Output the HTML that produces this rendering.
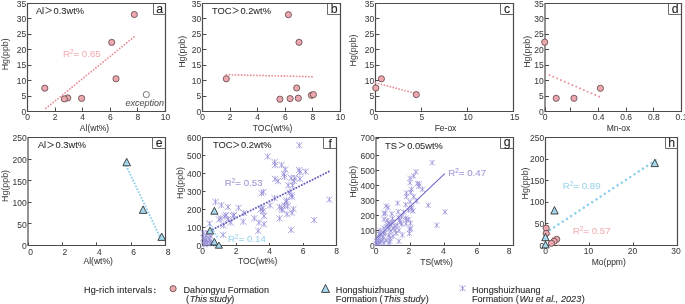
<!DOCTYPE html>
<html><head><meta charset="utf-8"><style>
html,body{margin:0;padding:0;background:#fff;width:685px;height:304px;overflow:hidden}
svg{display:block;font-family:"Liberation Sans",sans-serif;will-change:transform}
</style></head><body>
<svg width="685" height="304" viewBox="0 0 685 304">
<rect width="685" height="304" fill="#fff"/>
<path d="M27.5,3.5 H165.5 V111.5 H27.5 Z" fill="none" stroke="#4f4a49" stroke-width="1.2"/>
<path d="M27.5,111.5 V107.5" stroke="#4f4a49" stroke-width="1"/>
<text x="27.50" y="120.10" font-size="8.5" text-anchor="middle" fill="#3c3c3c" stroke="#3c3c3c" stroke-width="0.05" >0</text>
<path d="M55.5,111.5 V107.5" stroke="#4f4a49" stroke-width="1"/>
<text x="55.10" y="120.10" font-size="8.5" text-anchor="middle" fill="#3c3c3c" stroke="#3c3c3c" stroke-width="0.05" >2</text>
<path d="M82.5,111.5 V107.5" stroke="#4f4a49" stroke-width="1"/>
<text x="82.70" y="120.10" font-size="8.5" text-anchor="middle" fill="#3c3c3c" stroke="#3c3c3c" stroke-width="0.05" >4</text>
<path d="M110.5,111.5 V107.5" stroke="#4f4a49" stroke-width="1"/>
<text x="110.30" y="120.10" font-size="8.5" text-anchor="middle" fill="#3c3c3c" stroke="#3c3c3c" stroke-width="0.05" >6</text>
<path d="M137.5,111.5 V107.5" stroke="#4f4a49" stroke-width="1"/>
<text x="137.90" y="120.10" font-size="8.5" text-anchor="middle" fill="#3c3c3c" stroke="#3c3c3c" stroke-width="0.05" >8</text>
<path d="M165.5,111.5 V107.5" stroke="#4f4a49" stroke-width="1"/>
<text x="165.50" y="120.10" font-size="8.5" text-anchor="middle" fill="#3c3c3c" stroke="#3c3c3c" stroke-width="0.05" >10</text>
<path d="M27.5,111.5 H31.5" stroke="#4f4a49" stroke-width="1"/>
<text x="26.20" y="114.50" font-size="8.5" text-anchor="end" fill="#3c3c3c" stroke="#3c3c3c" stroke-width="0.05" >0</text>
<path d="M27.5,96.5 H31.5" stroke="#4f4a49" stroke-width="1"/>
<text x="26.20" y="99.07" font-size="8.5" text-anchor="end" fill="#3c3c3c" stroke="#3c3c3c" stroke-width="0.05" >5</text>
<path d="M27.5,80.5 H31.5" stroke="#4f4a49" stroke-width="1"/>
<text x="26.20" y="83.64" font-size="8.5" text-anchor="end" fill="#3c3c3c" stroke="#3c3c3c" stroke-width="0.05" >10</text>
<path d="M27.5,65.5 H31.5" stroke="#4f4a49" stroke-width="1"/>
<text x="26.20" y="68.21" font-size="8.5" text-anchor="end" fill="#3c3c3c" stroke="#3c3c3c" stroke-width="0.05" >15</text>
<path d="M27.5,49.5 H31.5" stroke="#4f4a49" stroke-width="1"/>
<text x="26.20" y="52.79" font-size="8.5" text-anchor="end" fill="#3c3c3c" stroke="#3c3c3c" stroke-width="0.05" >20</text>
<path d="M27.5,34.5 H31.5" stroke="#4f4a49" stroke-width="1"/>
<text x="26.20" y="37.36" font-size="8.5" text-anchor="end" fill="#3c3c3c" stroke="#3c3c3c" stroke-width="0.05" >25</text>
<path d="M27.5,18.5 H31.5" stroke="#4f4a49" stroke-width="1"/>
<text x="26.20" y="21.93" font-size="8.5" text-anchor="end" fill="#3c3c3c" stroke="#3c3c3c" stroke-width="0.05" >30</text>
<path d="M27.5,3.5 H31.5" stroke="#4f4a49" stroke-width="1"/>
<text x="26.20" y="6.50" font-size="8.5" text-anchor="end" fill="#3c3c3c" stroke="#3c3c3c" stroke-width="0.05" >35</text>
<path d="M165.5,14.5 H153.5 V3.5" fill="none" stroke="#5e5a5a" stroke-width="0.9"/>
<text x="159.70" y="12.80" font-size="12.3" text-anchor="middle" fill="#222" stroke="#222" stroke-width="0.08" >a</text>
<text x="35.90" y="13.70" font-size="9.3" fill="#2e2e2e" stroke="#2e2e2e" stroke-width="0.08">Al</text>
<path d="M45.50,7.50 L51.60,10.35 L45.50,13.20" fill="none" stroke="#2e2e2e" stroke-width="0.85" stroke-linejoin="miter"/>
<text x="53.54" y="13.70" font-size="9.3" fill="#2e2e2e" stroke="#2e2e2e" stroke-width="0.08">0.3wt%</text>
<text x="0" y="0" font-size="8.9" text-anchor="middle" fill="#3c3c3c" transform="translate(7.6,54.3) rotate(-90)">Hg(ppb)</text>
<text x="94.50" y="130.80" font-size="8.5" text-anchor="middle" fill="#3c3c3c" stroke="#3c3c3c" stroke-width="0.08" >Al(wt%)</text>
<path d="M46.00,108.30 L134.70,36.40" stroke="#e9939b" stroke-width="1.9" stroke-dasharray="0.01 3.05" stroke-linecap="round" fill="none"/>
<circle cx="134.30" cy="14.50" r="3.1" fill="#eca8ae" stroke="#5b4345" stroke-width="0.8"/>
<circle cx="111.70" cy="42.40" r="3.1" fill="#eca8ae" stroke="#5b4345" stroke-width="0.8"/>
<circle cx="116.00" cy="78.80" r="3.1" fill="#eca8ae" stroke="#5b4345" stroke-width="0.8"/>
<circle cx="44.80" cy="88.20" r="3.1" fill="#eca8ae" stroke="#5b4345" stroke-width="0.8"/>
<circle cx="67.70" cy="97.90" r="3.1" fill="#eca8ae" stroke="#5b4345" stroke-width="0.8"/>
<circle cx="64.30" cy="98.90" r="3.1" fill="#eca8ae" stroke="#5b4345" stroke-width="0.8"/>
<circle cx="81.60" cy="98.40" r="3.1" fill="#eca8ae" stroke="#5b4345" stroke-width="0.8"/>
<circle cx="146.30" cy="94.60" r="3.1" fill="#fff" stroke="#555" stroke-width="0.8"/>
<text x="125.60" y="105.50" font-size="9" text-anchor="start" fill="#555" stroke="#555" stroke-width="0.08" font-style="italic">exception</text>
<text x="63.00" y="56.60" font-size="9.7" fill="#f2b1b6" stroke="#f2b1b6" stroke-width="0.1">R<tspan font-size="6.3" dy="-3.0" dx="-0.1">2</tspan><tspan dy="3.0" dx="0.1">= 0.65</tspan></text>
<path d="M202.5,3.5 H340.5 V111.5 H202.5 Z" fill="none" stroke="#4f4a49" stroke-width="1.2"/>
<path d="M202.5,111.5 V107.5" stroke="#4f4a49" stroke-width="1"/>
<text x="202.50" y="120.10" font-size="8.5" text-anchor="middle" fill="#3c3c3c" stroke="#3c3c3c" stroke-width="0.05" >0</text>
<path d="M230.5,111.5 V107.5" stroke="#4f4a49" stroke-width="1"/>
<text x="230.10" y="120.10" font-size="8.5" text-anchor="middle" fill="#3c3c3c" stroke="#3c3c3c" stroke-width="0.05" >2</text>
<path d="M257.5,111.5 V107.5" stroke="#4f4a49" stroke-width="1"/>
<text x="257.70" y="120.10" font-size="8.5" text-anchor="middle" fill="#3c3c3c" stroke="#3c3c3c" stroke-width="0.05" >4</text>
<path d="M285.5,111.5 V107.5" stroke="#4f4a49" stroke-width="1"/>
<text x="285.30" y="120.10" font-size="8.5" text-anchor="middle" fill="#3c3c3c" stroke="#3c3c3c" stroke-width="0.05" >6</text>
<path d="M312.5,111.5 V107.5" stroke="#4f4a49" stroke-width="1"/>
<text x="312.90" y="120.10" font-size="8.5" text-anchor="middle" fill="#3c3c3c" stroke="#3c3c3c" stroke-width="0.05" >8</text>
<path d="M340.5,111.5 V107.5" stroke="#4f4a49" stroke-width="1"/>
<text x="340.50" y="120.10" font-size="8.5" text-anchor="middle" fill="#3c3c3c" stroke="#3c3c3c" stroke-width="0.05" >10</text>
<path d="M202.5,111.5 H206.5" stroke="#4f4a49" stroke-width="1"/>
<text x="201.20" y="114.50" font-size="8.5" text-anchor="end" fill="#3c3c3c" stroke="#3c3c3c" stroke-width="0.05" >0</text>
<path d="M202.5,96.5 H206.5" stroke="#4f4a49" stroke-width="1"/>
<text x="201.20" y="99.07" font-size="8.5" text-anchor="end" fill="#3c3c3c" stroke="#3c3c3c" stroke-width="0.05" >5</text>
<path d="M202.5,80.5 H206.5" stroke="#4f4a49" stroke-width="1"/>
<text x="201.20" y="83.64" font-size="8.5" text-anchor="end" fill="#3c3c3c" stroke="#3c3c3c" stroke-width="0.05" >10</text>
<path d="M202.5,65.5 H206.5" stroke="#4f4a49" stroke-width="1"/>
<text x="201.20" y="68.21" font-size="8.5" text-anchor="end" fill="#3c3c3c" stroke="#3c3c3c" stroke-width="0.05" >15</text>
<path d="M202.5,49.5 H206.5" stroke="#4f4a49" stroke-width="1"/>
<text x="201.20" y="52.79" font-size="8.5" text-anchor="end" fill="#3c3c3c" stroke="#3c3c3c" stroke-width="0.05" >20</text>
<path d="M202.5,34.5 H206.5" stroke="#4f4a49" stroke-width="1"/>
<text x="201.20" y="37.36" font-size="8.5" text-anchor="end" fill="#3c3c3c" stroke="#3c3c3c" stroke-width="0.05" >25</text>
<path d="M202.5,18.5 H206.5" stroke="#4f4a49" stroke-width="1"/>
<text x="201.20" y="21.93" font-size="8.5" text-anchor="end" fill="#3c3c3c" stroke="#3c3c3c" stroke-width="0.05" >30</text>
<path d="M202.5,3.5 H206.5" stroke="#4f4a49" stroke-width="1"/>
<text x="201.20" y="6.50" font-size="8.5" text-anchor="end" fill="#3c3c3c" stroke="#3c3c3c" stroke-width="0.05" >35</text>
<path d="M340.5,14.5 H327.5 V3.5" fill="none" stroke="#5e5a5a" stroke-width="0.9"/>
<text x="334.20" y="12.80" font-size="12.3" text-anchor="middle" fill="#222" stroke="#222" stroke-width="0.08" >b</text>
<text x="212.10" y="13.80" font-size="9.3" fill="#2e2e2e" stroke="#2e2e2e" stroke-width="0.08">TOC</text>
<path d="M232.70,7.70 L238.40,10.50 L232.70,13.30" fill="none" stroke="#2e2e2e" stroke-width="0.85" stroke-linejoin="miter"/>
<text x="240.44" y="13.80" font-size="9.3" fill="#2e2e2e" stroke="#2e2e2e" stroke-width="0.08">0.2wt%</text>
<text x="0" y="0" font-size="8.9" text-anchor="middle" fill="#3c3c3c" transform="translate(185.4,51.8) rotate(-90)">Hg(ppb)</text>
<text x="272.60" y="130.80" font-size="8.5" text-anchor="middle" fill="#3c3c3c" stroke="#3c3c3c" stroke-width="0.08" >TOC(wt%)</text>
<path d="M226.30,74.70 L312.10,76.70" stroke="#e9939b" stroke-width="1.9" stroke-dasharray="0.01 3.05" stroke-linecap="round" fill="none"/>
<circle cx="288.40" cy="14.70" r="3.1" fill="#eca8ae" stroke="#5b4345" stroke-width="0.8"/>
<circle cx="299.00" cy="42.30" r="3.1" fill="#eca8ae" stroke="#5b4345" stroke-width="0.8"/>
<circle cx="226.30" cy="78.80" r="3.1" fill="#eca8ae" stroke="#5b4345" stroke-width="0.8"/>
<circle cx="296.70" cy="88.00" r="3.1" fill="#eca8ae" stroke="#5b4345" stroke-width="0.8"/>
<circle cx="279.90" cy="99.20" r="3.1" fill="#eca8ae" stroke="#5b4345" stroke-width="0.8"/>
<circle cx="290.10" cy="98.60" r="3.1" fill="#eca8ae" stroke="#5b4345" stroke-width="0.8"/>
<circle cx="298.30" cy="98.20" r="3.1" fill="#eca8ae" stroke="#5b4345" stroke-width="0.8"/>
<circle cx="311.40" cy="95.30" r="3.1" fill="#eca8ae" stroke="#5b4345" stroke-width="0.8"/>
<circle cx="313.40" cy="94.60" r="3.1" fill="#eca8ae" stroke="#5b4345" stroke-width="0.8"/>
<path d="M375.5,3.5 H513.5 V111.5 H375.5 Z" fill="none" stroke="#4f4a49" stroke-width="1.2"/>
<path d="M375.5,111.5 V107.5" stroke="#4f4a49" stroke-width="1"/>
<text x="375.80" y="120.10" font-size="8.5" text-anchor="middle" fill="#3c3c3c" stroke="#3c3c3c" stroke-width="0.05" >0</text>
<path d="M421.5,111.5 V107.5" stroke="#4f4a49" stroke-width="1"/>
<text x="421.80" y="120.10" font-size="8.5" text-anchor="middle" fill="#3c3c3c" stroke="#3c3c3c" stroke-width="0.05" >5</text>
<path d="M467.5,111.5 V107.5" stroke="#4f4a49" stroke-width="1"/>
<text x="468.10" y="120.10" font-size="8.5" text-anchor="middle" fill="#3c3c3c" stroke="#3c3c3c" stroke-width="0.05" >10</text>
<path d="M513.5,111.5 V107.5" stroke="#4f4a49" stroke-width="1"/>
<text x="514.70" y="120.10" font-size="8.5" text-anchor="middle" fill="#3c3c3c" stroke="#3c3c3c" stroke-width="0.05" >15</text>
<path d="M375.5,111.5 H379.5" stroke="#4f4a49" stroke-width="1"/>
<text x="374.20" y="114.50" font-size="8.5" text-anchor="end" fill="#3c3c3c" stroke="#3c3c3c" stroke-width="0.05" >0</text>
<path d="M375.5,96.5 H379.5" stroke="#4f4a49" stroke-width="1"/>
<text x="374.20" y="99.07" font-size="8.5" text-anchor="end" fill="#3c3c3c" stroke="#3c3c3c" stroke-width="0.05" >5</text>
<path d="M375.5,80.5 H379.5" stroke="#4f4a49" stroke-width="1"/>
<text x="374.20" y="83.64" font-size="8.5" text-anchor="end" fill="#3c3c3c" stroke="#3c3c3c" stroke-width="0.05" >10</text>
<path d="M375.5,65.5 H379.5" stroke="#4f4a49" stroke-width="1"/>
<text x="374.20" y="68.21" font-size="8.5" text-anchor="end" fill="#3c3c3c" stroke="#3c3c3c" stroke-width="0.05" >15</text>
<path d="M375.5,49.5 H379.5" stroke="#4f4a49" stroke-width="1"/>
<text x="374.20" y="52.79" font-size="8.5" text-anchor="end" fill="#3c3c3c" stroke="#3c3c3c" stroke-width="0.05" >20</text>
<path d="M375.5,34.5 H379.5" stroke="#4f4a49" stroke-width="1"/>
<text x="374.20" y="37.36" font-size="8.5" text-anchor="end" fill="#3c3c3c" stroke="#3c3c3c" stroke-width="0.05" >25</text>
<path d="M375.5,18.5 H379.5" stroke="#4f4a49" stroke-width="1"/>
<text x="374.20" y="21.93" font-size="8.5" text-anchor="end" fill="#3c3c3c" stroke="#3c3c3c" stroke-width="0.05" >30</text>
<path d="M375.5,3.5 H379.5" stroke="#4f4a49" stroke-width="1"/>
<text x="374.20" y="6.50" font-size="8.5" text-anchor="end" fill="#3c3c3c" stroke="#3c3c3c" stroke-width="0.05" >35</text>
<path d="M513.5,14.5 H500.5 V3.5" fill="none" stroke="#5e5a5a" stroke-width="0.9"/>
<text x="507.20" y="12.80" font-size="12.3" text-anchor="middle" fill="#222" stroke="#222" stroke-width="0.08" >c</text>
<text x="0" y="0" font-size="8.9" text-anchor="middle" fill="#3c3c3c" transform="translate(356.3,50.5) rotate(-90)">Hg(ppb)</text>
<text x="445.50" y="130.80" font-size="8.5" text-anchor="middle" fill="#3c3c3c" stroke="#3c3c3c" stroke-width="0.08" >Fe-ox</text>
<path d="M375.50,82.80 L414.00,93.00" stroke="#e9939b" stroke-width="1.9" stroke-dasharray="0.01 3.05" stroke-linecap="round" fill="none"/>
<circle cx="381.40" cy="78.80" r="3.1" fill="#eca8ae" stroke="#5b4345" stroke-width="0.8"/>
<circle cx="375.80" cy="88.00" r="3.1" fill="#eca8ae" stroke="#5b4345" stroke-width="0.8"/>
<circle cx="416.30" cy="94.60" r="3.1" fill="#eca8ae" stroke="#5b4345" stroke-width="0.8"/>
<path d="M545.0,3.5 H681.5 V111.5 H545.0 Z" fill="none" stroke="#4f4a49" stroke-width="1.2"/>
<path d="M545.5,111.5 V107.5" stroke="#4f4a49" stroke-width="1"/>
<text x="545.00" y="120.10" font-size="8.5" text-anchor="middle" fill="#3c3c3c" stroke="#3c3c3c" stroke-width="0.05" >0</text>
<path d="M570.5,111.5 V107.5" stroke="#4f4a49" stroke-width="1"/>
<path d="M598.5,111.5 V107.5" stroke="#4f4a49" stroke-width="1"/>
<text x="598.60" y="120.10" font-size="8.5" text-anchor="middle" fill="#3c3c3c" stroke="#3c3c3c" stroke-width="0.05" >0.4</text>
<path d="M626.5,111.5 V107.5" stroke="#4f4a49" stroke-width="1"/>
<text x="626.20" y="120.10" font-size="8.5" text-anchor="middle" fill="#3c3c3c" stroke="#3c3c3c" stroke-width="0.05" >0.6</text>
<path d="M653.5,111.5 V107.5" stroke="#4f4a49" stroke-width="1"/>
<text x="653.80" y="120.10" font-size="8.5" text-anchor="middle" fill="#3c3c3c" stroke="#3c3c3c" stroke-width="0.05" >0.8</text>
<path d="M681.5,111.5 V107.5" stroke="#4f4a49" stroke-width="1"/>
<text x="681.50" y="120.10" font-size="8.5" text-anchor="middle" fill="#3c3c3c" stroke="#3c3c3c" stroke-width="0.05" >0.1</text>
<path d="M545.0,111.5 H549.0" stroke="#4f4a49" stroke-width="1"/>
<text x="543.70" y="114.50" font-size="8.5" text-anchor="end" fill="#3c3c3c" stroke="#3c3c3c" stroke-width="0.05" >0</text>
<path d="M545.0,96.5 H549.0" stroke="#4f4a49" stroke-width="1"/>
<text x="543.70" y="99.07" font-size="8.5" text-anchor="end" fill="#3c3c3c" stroke="#3c3c3c" stroke-width="0.05" >5</text>
<path d="M545.0,80.5 H549.0" stroke="#4f4a49" stroke-width="1"/>
<text x="543.70" y="83.64" font-size="8.5" text-anchor="end" fill="#3c3c3c" stroke="#3c3c3c" stroke-width="0.05" >10</text>
<path d="M545.0,65.5 H549.0" stroke="#4f4a49" stroke-width="1"/>
<text x="543.70" y="68.21" font-size="8.5" text-anchor="end" fill="#3c3c3c" stroke="#3c3c3c" stroke-width="0.05" >15</text>
<path d="M545.0,49.5 H549.0" stroke="#4f4a49" stroke-width="1"/>
<text x="543.70" y="52.79" font-size="8.5" text-anchor="end" fill="#3c3c3c" stroke="#3c3c3c" stroke-width="0.05" >20</text>
<path d="M545.0,34.5 H549.0" stroke="#4f4a49" stroke-width="1"/>
<text x="543.70" y="37.36" font-size="8.5" text-anchor="end" fill="#3c3c3c" stroke="#3c3c3c" stroke-width="0.05" >25</text>
<path d="M545.0,18.5 H549.0" stroke="#4f4a49" stroke-width="1"/>
<text x="543.70" y="21.93" font-size="8.5" text-anchor="end" fill="#3c3c3c" stroke="#3c3c3c" stroke-width="0.05" >30</text>
<path d="M545.0,3.5 H549.0" stroke="#4f4a49" stroke-width="1"/>
<text x="543.70" y="6.50" font-size="8.5" text-anchor="end" fill="#3c3c3c" stroke="#3c3c3c" stroke-width="0.05" >35</text>
<path d="M681.5,14.5 H668.5 V3.5" fill="none" stroke="#5e5a5a" stroke-width="0.9"/>
<text x="675.20" y="12.80" font-size="12.3" text-anchor="middle" fill="#222" stroke="#222" stroke-width="0.08" >d</text>
<text x="0" y="0" font-size="8.9" text-anchor="middle" fill="#3c3c3c" transform="translate(530.4,51.8) rotate(-90)">Hg(ppb)</text>
<text x="618.50" y="130.50" font-size="8.5" text-anchor="middle" fill="#3c3c3c" stroke="#3c3c3c" stroke-width="0.08" >Mn-ox</text>
<path d="M549.50,75.10 L599.60,96.85" stroke="#e9939b" stroke-width="2.0" stroke-dasharray="0.01 4.15" stroke-linecap="round" fill="none"/>
<circle cx="544.70" cy="42.20" r="3.1" fill="#eca8ae" stroke="#5b4345" stroke-width="0.8"/>
<circle cx="556.20" cy="98.30" r="3.1" fill="#eca8ae" stroke="#5b4345" stroke-width="0.8"/>
<circle cx="574.00" cy="98.30" r="3.1" fill="#eca8ae" stroke="#5b4345" stroke-width="0.8"/>
<circle cx="600.40" cy="88.30" r="3.1" fill="#eca8ae" stroke="#5b4345" stroke-width="0.8"/>
<path d="M28.0,137.5 H165.5 V245.5 H28.0 Z" fill="none" stroke="#4f4a49" stroke-width="1.2"/>
<path d="M28.5,245.5 V242.3" stroke="#4f4a49" stroke-width="1"/>
<text x="30.50" y="254.70" font-size="8.5" text-anchor="middle" fill="#3c3c3c" stroke="#3c3c3c" stroke-width="0.05" >0</text>
<path d="M62.5,245.5 V242.3" stroke="#4f4a49" stroke-width="1"/>
<text x="64.88" y="254.70" font-size="8.5" text-anchor="middle" fill="#3c3c3c" stroke="#3c3c3c" stroke-width="0.05" >2</text>
<path d="M96.5,245.5 V242.3" stroke="#4f4a49" stroke-width="1"/>
<text x="99.25" y="254.70" font-size="8.5" text-anchor="middle" fill="#3c3c3c" stroke="#3c3c3c" stroke-width="0.05" >4</text>
<path d="M131.5,245.5 V242.3" stroke="#4f4a49" stroke-width="1"/>
<text x="133.62" y="254.70" font-size="8.5" text-anchor="middle" fill="#3c3c3c" stroke="#3c3c3c" stroke-width="0.05" >6</text>
<path d="M165.5,245.5 V242.3" stroke="#4f4a49" stroke-width="1"/>
<text x="168.00" y="254.70" font-size="8.5" text-anchor="middle" fill="#3c3c3c" stroke="#3c3c3c" stroke-width="0.05" >8</text>
<path d="M28.0,245.5 H31.5" stroke="#4f4a49" stroke-width="1"/>
<text x="26.70" y="249.30" font-size="8.5" text-anchor="end" fill="#3c3c3c" stroke="#3c3c3c" stroke-width="0.05" >0</text>
<path d="M28.0,223.5 H31.5" stroke="#4f4a49" stroke-width="1"/>
<text x="26.70" y="227.70" font-size="8.5" text-anchor="end" fill="#3c3c3c" stroke="#3c3c3c" stroke-width="0.05" >50</text>
<path d="M28.0,202.5 H31.5" stroke="#4f4a49" stroke-width="1"/>
<text x="26.70" y="206.10" font-size="8.5" text-anchor="end" fill="#3c3c3c" stroke="#3c3c3c" stroke-width="0.05" >100</text>
<path d="M28.0,180.5 H31.5" stroke="#4f4a49" stroke-width="1"/>
<text x="26.70" y="184.50" font-size="8.5" text-anchor="end" fill="#3c3c3c" stroke="#3c3c3c" stroke-width="0.05" >150</text>
<path d="M28.0,159.5 H31.5" stroke="#4f4a49" stroke-width="1"/>
<text x="26.70" y="162.90" font-size="8.5" text-anchor="end" fill="#3c3c3c" stroke="#3c3c3c" stroke-width="0.05" >200</text>
<path d="M28.0,137.5 H31.5" stroke="#4f4a49" stroke-width="1"/>
<text x="26.70" y="141.30" font-size="8.5" text-anchor="end" fill="#3c3c3c" stroke="#3c3c3c" stroke-width="0.05" >250</text>
<path d="M165.5,148.5 H152.5 V137.5" fill="none" stroke="#5e5a5a" stroke-width="0.9"/>
<text x="159.20" y="146.80" font-size="12.3" text-anchor="middle" fill="#222" stroke="#222" stroke-width="0.08" >e</text>
<text x="37.90" y="148.30" font-size="9.3" fill="#2e2e2e" stroke="#2e2e2e" stroke-width="0.08">Al</text>
<path d="M47.50,142.00 L53.60,144.90 L47.50,147.80" fill="none" stroke="#2e2e2e" stroke-width="0.85" stroke-linejoin="miter"/>
<text x="55.54" y="148.30" font-size="9.3" fill="#2e2e2e" stroke="#2e2e2e" stroke-width="0.08">0.3wt%</text>
<text x="0" y="0" font-size="8.9" text-anchor="middle" fill="#3c3c3c" transform="translate(7.6,186) rotate(-90)">Hg(ppb)</text>
<text x="98.20" y="264.20" font-size="8.5" text-anchor="middle" fill="#3c3c3c" stroke="#3c3c3c" stroke-width="0.08" >Al(wt%)</text>
<path d="M126.00,165.30 L160.60,238.50" stroke="#8fd0ec" stroke-width="1.9" stroke-dasharray="1.7 1.5" stroke-linecap="butt" fill="none"/>
<path d="M126.70,158.30 L130.50,165.80 L122.90,165.80 Z" fill="#a7d8ec" stroke="#2f3436" stroke-width="0.9" stroke-linejoin="miter"/>
<path d="M143.10,205.90 L146.90,213.40 L139.30,213.40 Z" fill="#a7d8ec" stroke="#2f3436" stroke-width="0.9" stroke-linejoin="miter"/>
<path d="M161.70,233.10 L165.50,240.40 L157.90,240.40 Z" fill="#a7d8ec" stroke="#2f3436" stroke-width="0.9" stroke-linejoin="miter"/>
<path d="M202.5,137.5 H336.5 V245.5 H202.5 Z" fill="none" stroke="#4f4a49" stroke-width="1.2"/>
<path d="M202.5,245.5 V243.0" stroke="#4f4a49" stroke-width="1"/>
<text x="202.50" y="254.10" font-size="8.5" text-anchor="middle" fill="#3c3c3c" stroke="#3c3c3c" stroke-width="0.05" >0</text>
<path d="M236.5,245.5 V243.0" stroke="#4f4a49" stroke-width="1"/>
<text x="236.00" y="254.10" font-size="8.5" text-anchor="middle" fill="#3c3c3c" stroke="#3c3c3c" stroke-width="0.05" >2</text>
<path d="M269.5,245.5 V243.0" stroke="#4f4a49" stroke-width="1"/>
<text x="269.50" y="254.10" font-size="8.5" text-anchor="middle" fill="#3c3c3c" stroke="#3c3c3c" stroke-width="0.05" >4</text>
<path d="M303.5,245.5 V243.0" stroke="#4f4a49" stroke-width="1"/>
<text x="303.00" y="254.10" font-size="8.5" text-anchor="middle" fill="#3c3c3c" stroke="#3c3c3c" stroke-width="0.05" >6</text>
<path d="M336.5,245.5 V243.0" stroke="#4f4a49" stroke-width="1"/>
<text x="336.50" y="254.10" font-size="8.5" text-anchor="middle" fill="#3c3c3c" stroke="#3c3c3c" stroke-width="0.05" >8</text>
<path d="M202.5,245.5 H205.5" stroke="#4f4a49" stroke-width="1"/>
<text x="201.20" y="248.50" font-size="8.5" text-anchor="end" fill="#3c3c3c" stroke="#3c3c3c" stroke-width="0.05" >0</text>
<path d="M202.5,227.5 H205.5" stroke="#4f4a49" stroke-width="1"/>
<text x="201.20" y="230.50" font-size="8.5" text-anchor="end" fill="#3c3c3c" stroke="#3c3c3c" stroke-width="0.05" >100</text>
<path d="M202.5,209.5 H205.5" stroke="#4f4a49" stroke-width="1"/>
<text x="201.20" y="212.50" font-size="8.5" text-anchor="end" fill="#3c3c3c" stroke="#3c3c3c" stroke-width="0.05" >200</text>
<path d="M202.5,191.5 H205.5" stroke="#4f4a49" stroke-width="1"/>
<text x="201.20" y="194.50" font-size="8.5" text-anchor="end" fill="#3c3c3c" stroke="#3c3c3c" stroke-width="0.05" >300</text>
<path d="M202.5,173.5 H205.5" stroke="#4f4a49" stroke-width="1"/>
<text x="201.20" y="176.50" font-size="8.5" text-anchor="end" fill="#3c3c3c" stroke="#3c3c3c" stroke-width="0.05" >400</text>
<path d="M202.5,155.5 H205.5" stroke="#4f4a49" stroke-width="1"/>
<text x="201.20" y="158.50" font-size="8.5" text-anchor="end" fill="#3c3c3c" stroke="#3c3c3c" stroke-width="0.05" >500</text>
<path d="M202.5,137.5 H205.5" stroke="#4f4a49" stroke-width="1"/>
<text x="201.20" y="140.50" font-size="8.5" text-anchor="end" fill="#3c3c3c" stroke="#3c3c3c" stroke-width="0.05" >600</text>
<path d="M336.5,148.5 H323.5 V137.5" fill="none" stroke="#5e5a5a" stroke-width="0.9"/>
<text x="330.20" y="147.50" font-size="12.3" text-anchor="middle" fill="#222" stroke="#222" stroke-width="0.08" >f</text>
<text x="212.90" y="148.10" font-size="9.3" fill="#2e2e2e" stroke="#2e2e2e" stroke-width="0.08">TOC</text>
<path d="M233.30,142.00 L239.00,144.80 L233.30,147.60" fill="none" stroke="#2e2e2e" stroke-width="0.85" stroke-linejoin="miter"/>
<text x="241.04" y="148.10" font-size="9.3" fill="#2e2e2e" stroke="#2e2e2e" stroke-width="0.08">0.2wt%</text>
<text x="0" y="0" font-size="8.9" text-anchor="middle" fill="#3c3c3c" transform="translate(183.4,183) rotate(-90)">Hg(ppb)</text>
<text x="257.70" y="264.40" font-size="8.5" text-anchor="middle" fill="#3c3c3c" stroke="#3c3c3c" stroke-width="0.08" >TOC(wt%)</text>
<rect x="203" y="239.5" width="8.5" height="5.5" fill="#aaa6de" opacity="0.75"/>
<path d="M264.60,153.40 L270.80,159.60 M270.80,153.40 L264.60,159.60 M267.70,153.40 V159.60" stroke="#918cd6" stroke-width="0.75" fill="none"/>
<path d="M271.60,159.00 L277.80,165.20 M277.80,159.00 L271.60,165.20 M274.70,159.00 V165.20" stroke="#918cd6" stroke-width="0.75" fill="none"/>
<path d="M271.90,161.90 L278.10,168.10 M278.10,161.90 L271.90,168.10 M275.00,161.90 V168.10" stroke="#918cd6" stroke-width="0.75" fill="none"/>
<path d="M278.50,161.90 L284.70,168.10 M284.70,161.90 L278.50,168.10 M281.60,161.90 V168.10" stroke="#918cd6" stroke-width="0.75" fill="none"/>
<path d="M282.20,166.30 L288.40,172.50 M288.40,166.30 L282.20,172.50 M285.30,166.30 V172.50" stroke="#918cd6" stroke-width="0.75" fill="none"/>
<path d="M281.40,173.60 L287.60,179.80 M287.60,173.60 L281.40,179.80 M284.50,173.60 V179.80" stroke="#918cd6" stroke-width="0.75" fill="none"/>
<path d="M296.00,167.00 L302.20,173.20 M302.20,167.00 L296.00,173.20 M299.10,167.00 V173.20" stroke="#918cd6" stroke-width="0.75" fill="none"/>
<path d="M296.80,169.20 L303.00,175.40 M303.00,169.20 L296.80,175.40 M299.90,169.20 V175.40" stroke="#918cd6" stroke-width="0.75" fill="none"/>
<path d="M302.60,168.50 L308.80,174.70 M308.80,168.50 L302.60,174.70 M305.70,168.50 V174.70" stroke="#918cd6" stroke-width="0.75" fill="none"/>
<path d="M271.90,175.80 L278.10,182.00 M278.10,175.80 L271.90,182.00 M275.00,175.80 V182.00" stroke="#918cd6" stroke-width="0.75" fill="none"/>
<path d="M274.90,178.00 L281.10,184.20 M281.10,178.00 L274.90,184.20 M278.00,178.00 V184.20" stroke="#918cd6" stroke-width="0.75" fill="none"/>
<path d="M288.00,175.00 L294.20,181.20 M294.20,175.00 L288.00,181.20 M291.10,175.00 V181.20" stroke="#918cd6" stroke-width="0.75" fill="none"/>
<path d="M291.60,175.00 L297.80,181.20 M297.80,175.00 L291.60,181.20 M294.70,175.00 V181.20" stroke="#918cd6" stroke-width="0.75" fill="none"/>
<path d="M296.80,175.80 L303.00,182.00 M303.00,175.80 L296.80,182.00 M299.90,175.80 V182.00" stroke="#918cd6" stroke-width="0.75" fill="none"/>
<path d="M290.90,178.00 L297.10,184.20 M297.10,178.00 L290.90,184.20 M294.00,178.00 V184.20" stroke="#918cd6" stroke-width="0.75" fill="none"/>
<path d="M285.10,182.30 L291.30,188.50 M291.30,182.30 L285.10,188.50 M288.20,182.30 V188.50" stroke="#918cd6" stroke-width="0.75" fill="none"/>
<path d="M289.50,182.30 L295.70,188.50 M295.70,182.30 L289.50,188.50 M292.60,182.30 V188.50" stroke="#918cd6" stroke-width="0.75" fill="none"/>
<path d="M260.30,188.90 L266.50,195.10 M266.50,188.90 L260.30,195.10 M263.40,188.90 V195.10" stroke="#918cd6" stroke-width="0.75" fill="none"/>
<path d="M286.50,189.60 L292.70,195.80 M292.70,189.60 L286.50,195.80 M289.60,189.60 V195.80" stroke="#918cd6" stroke-width="0.75" fill="none"/>
<path d="M296.20,142.20 L302.40,148.40 M302.40,142.20 L296.20,148.40 M299.30,142.20 V148.40" stroke="#918cd6" stroke-width="0.75" fill="none"/>
<path d="M280.90,170.90 L287.10,177.10 M287.10,170.90 L280.90,177.10 M284.00,170.90 V177.10" stroke="#918cd6" stroke-width="0.75" fill="none"/>
<path d="M288.70,191.90 L294.90,198.10 M294.90,191.90 L288.70,198.10 M291.80,191.90 V198.10" stroke="#918cd6" stroke-width="0.75" fill="none"/>
<path d="M283.50,197.20 L289.70,203.40 M289.70,197.20 L283.50,203.40 M286.60,197.20 V203.40" stroke="#918cd6" stroke-width="0.75" fill="none"/>
<path d="M326.20,196.50 L332.40,202.70 M332.40,196.50 L326.20,202.70 M329.30,196.50 V202.70" stroke="#918cd6" stroke-width="0.75" fill="none"/>
<path d="M212.40,198.70 L218.60,204.90 M218.60,198.70 L212.40,204.90 M215.50,198.70 V204.90" stroke="#918cd6" stroke-width="0.75" fill="none"/>
<path d="M218.30,202.00 L224.50,208.20 M224.50,202.00 L218.30,208.20 M221.40,202.00 V208.20" stroke="#918cd6" stroke-width="0.75" fill="none"/>
<path d="M224.90,204.00 L231.10,210.20 M231.10,204.00 L224.90,210.20 M228.00,204.00 V210.20" stroke="#918cd6" stroke-width="0.75" fill="none"/>
<path d="M235.50,204.70 L241.70,210.90 M241.70,204.70 L235.50,210.90 M238.60,204.70 V210.90" stroke="#918cd6" stroke-width="0.75" fill="none"/>
<path d="M258.50,190.20 L264.70,196.40 M264.70,190.20 L258.50,196.40 M261.60,190.20 V196.40" stroke="#918cd6" stroke-width="0.75" fill="none"/>
<path d="M271.40,195.00 L277.60,201.20 M277.60,195.00 L271.40,201.20 M274.50,195.00 V201.20" stroke="#918cd6" stroke-width="0.75" fill="none"/>
<path d="M266.90,202.30 L273.10,208.50 M273.10,202.30 L266.90,208.50 M270.00,202.30 V208.50" stroke="#918cd6" stroke-width="0.75" fill="none"/>
<path d="M259.70,205.30 L265.90,211.50 M265.90,205.30 L259.70,211.50 M262.80,205.30 V211.50" stroke="#918cd6" stroke-width="0.75" fill="none"/>
<path d="M283.00,198.70 L289.20,204.90 M289.20,198.70 L283.00,204.90 M286.10,198.70 V204.90" stroke="#918cd6" stroke-width="0.75" fill="none"/>
<path d="M278.70,205.30 L284.90,211.50 M284.90,205.30 L278.70,211.50 M281.80,205.30 V211.50" stroke="#918cd6" stroke-width="0.75" fill="none"/>
<path d="M290.30,206.00 L296.50,212.20 M296.50,206.00 L290.30,212.20 M293.40,206.00 V212.20" stroke="#918cd6" stroke-width="0.75" fill="none"/>
<path d="M284.50,203.10 L290.70,209.30 M290.70,203.10 L284.50,209.30 M287.60,203.10 V209.30" stroke="#918cd6" stroke-width="0.75" fill="none"/>
<path d="M222.90,211.90 L229.10,218.10 M229.10,211.90 L222.90,218.10 M226.00,211.90 V218.10" stroke="#918cd6" stroke-width="0.75" fill="none"/>
<path d="M217.70,215.20 L223.90,221.40 M223.90,215.20 L217.70,221.40 M220.80,215.20 V221.40" stroke="#918cd6" stroke-width="0.75" fill="none"/>
<path d="M224.90,215.90 L231.10,222.10 M231.10,215.90 L224.90,222.10 M228.00,215.90 V222.10" stroke="#918cd6" stroke-width="0.75" fill="none"/>
<path d="M230.90,211.90 L237.10,218.10 M237.10,211.90 L230.90,218.10 M234.00,211.90 V218.10" stroke="#918cd6" stroke-width="0.75" fill="none"/>
<path d="M240.70,209.90 L246.90,216.10 M246.90,209.90 L240.70,216.10 M243.80,209.90 V216.10" stroke="#918cd6" stroke-width="0.75" fill="none"/>
<path d="M240.10,218.50 L246.30,224.70 M246.30,218.50 L240.10,224.70 M243.20,218.50 V224.70" stroke="#918cd6" stroke-width="0.75" fill="none"/>
<path d="M251.20,215.20 L257.40,221.40 M257.40,215.20 L251.20,221.40 M254.30,215.20 V221.40" stroke="#918cd6" stroke-width="0.75" fill="none"/>
<path d="M259.80,208.00 L266.00,214.20 M266.00,208.00 L259.80,214.20 M262.90,208.00 V214.20" stroke="#918cd6" stroke-width="0.75" fill="none"/>
<path d="M206.50,220.50 L212.70,226.70 M212.70,220.50 L206.50,226.70 M209.60,220.50 V226.70" stroke="#918cd6" stroke-width="0.75" fill="none"/>
<path d="M257.60,206.30 L263.80,212.50 M263.80,206.30 L257.60,212.50 M260.70,206.30 V212.50" stroke="#918cd6" stroke-width="0.75" fill="none"/>
<path d="M260.90,212.90 L267.10,219.10 M267.10,212.90 L260.90,219.10 M264.00,212.90 V219.10" stroke="#918cd6" stroke-width="0.75" fill="none"/>
<path d="M255.90,219.40 L262.10,225.60 M262.10,219.40 L255.90,225.60 M259.00,219.40 V225.60" stroke="#918cd6" stroke-width="0.75" fill="none"/>
<path d="M260.90,221.10 L267.10,227.30 M267.10,221.10 L260.90,227.30 M264.00,221.10 V227.30" stroke="#918cd6" stroke-width="0.75" fill="none"/>
<path d="M255.10,227.70 L261.30,233.90 M261.30,227.70 L255.10,233.90 M258.20,227.70 V233.90" stroke="#918cd6" stroke-width="0.75" fill="none"/>
<path d="M276.50,203.80 L282.70,210.00 M282.70,203.80 L276.50,210.00 M279.60,203.80 V210.00" stroke="#918cd6" stroke-width="0.75" fill="none"/>
<path d="M276.50,215.30 L282.70,221.50 M282.70,215.30 L276.50,221.50 M279.60,215.30 V221.50" stroke="#918cd6" stroke-width="0.75" fill="none"/>
<path d="M281.40,202.20 L287.60,208.40 M287.60,202.20 L281.40,208.40 M284.50,202.20 V208.40" stroke="#918cd6" stroke-width="0.75" fill="none"/>
<path d="M279.00,207.10 L285.20,213.30 M285.20,207.10 L279.00,213.30 M282.10,207.10 V213.30" stroke="#918cd6" stroke-width="0.75" fill="none"/>
<path d="M283.90,211.20 L290.10,217.40 M290.10,211.20 L283.90,217.40 M287.00,211.20 V217.40" stroke="#918cd6" stroke-width="0.75" fill="none"/>
<path d="M288.90,209.60 L295.10,215.80 M295.10,209.60 L288.90,215.80 M292.00,209.60 V215.80" stroke="#918cd6" stroke-width="0.75" fill="none"/>
<path d="M288.90,193.90 L295.10,200.10 M295.10,193.90 L288.90,200.10 M292.00,193.90 V200.10" stroke="#918cd6" stroke-width="0.75" fill="none"/>
<path d="M288.00,226.80 L294.20,233.00 M294.20,226.80 L288.00,233.00 M291.10,226.80 V233.00" stroke="#918cd6" stroke-width="0.75" fill="none"/>
<path d="M311.00,217.00 L317.20,223.20 M317.20,217.00 L311.00,223.20 M314.10,217.00 V223.20" stroke="#918cd6" stroke-width="0.75" fill="none"/>
<path d="M215.90,216.40 L222.10,222.60 M222.10,216.40 L215.90,222.60 M219.00,216.40 V222.60" stroke="#918cd6" stroke-width="0.75" fill="none"/>
<path d="M221.80,213.40 L228.00,219.60 M228.00,213.40 L221.80,219.60 M224.90,213.40 V219.60" stroke="#918cd6" stroke-width="0.75" fill="none"/>
<path d="M230.10,212.90 L236.30,219.10 M236.30,212.90 L230.10,219.10 M233.20,212.90 V219.10" stroke="#918cd6" stroke-width="0.75" fill="none"/>
<path d="M227.70,219.40 L233.90,225.60 M233.90,219.40 L227.70,225.60 M230.80,219.40 V225.60" stroke="#918cd6" stroke-width="0.75" fill="none"/>
<path d="M220.60,222.30 L226.80,228.50 M226.80,222.30 L220.60,228.50 M223.70,222.30 V228.50" stroke="#918cd6" stroke-width="0.75" fill="none"/>
<path d="M220.00,231.80 L226.20,238.00 M226.20,231.80 L220.00,238.00 M223.10,231.80 V238.00" stroke="#918cd6" stroke-width="0.75" fill="none"/>
<path d="M202.80,233.00 L209.00,239.20 M209.00,233.00 L202.80,239.20 M205.90,233.00 V239.20" stroke="#918cd6" stroke-width="0.75" fill="none"/>
<path d="M201.60,237.70 L207.80,243.90 M207.80,237.70 L201.60,243.90 M204.70,237.70 V243.90" stroke="#918cd6" stroke-width="0.75" fill="none"/>
<path d="M206.40,235.30 L212.60,241.50 M212.60,235.30 L206.40,241.50 M209.50,235.30 V241.50" stroke="#918cd6" stroke-width="0.75" fill="none"/>
<path d="M204.00,240.10 L210.20,246.30 M210.20,240.10 L204.00,246.30 M207.10,240.10 V246.30" stroke="#918cd6" stroke-width="0.75" fill="none"/>
<path d="M208.70,239.50 L214.90,245.70 M214.90,239.50 L208.70,245.70 M211.80,239.50 V245.70" stroke="#918cd6" stroke-width="0.75" fill="none"/>
<path d="M200.50,230.00 L206.70,236.20 M206.70,230.00 L200.50,236.20 M203.60,230.00 V236.20" stroke="#918cd6" stroke-width="0.75" fill="none"/>
<path d="M200.90,241.30 L207.10,247.50 M207.10,241.30 L200.90,247.50 M204.00,241.30 V247.50" stroke="#918cd6" stroke-width="0.75" fill="none"/>
<path d="M204.90,230.30 L211.10,236.50 M211.10,230.30 L204.90,236.50 M208.00,230.30 V236.50" stroke="#918cd6" stroke-width="0.75" fill="none"/>
<path d="M207.90,233.30 L214.10,239.50 M214.10,233.30 L207.90,239.50 M211.00,233.30 V239.50" stroke="#918cd6" stroke-width="0.75" fill="none"/>
<path d="M202.90,236.30 L209.10,242.50 M209.10,236.30 L202.90,242.50 M206.00,236.30 V242.50" stroke="#918cd6" stroke-width="0.75" fill="none"/>
<path d="M200.40,234.80 L206.60,241.00 M206.60,234.80 L200.40,241.00 M203.50,234.80 V241.00" stroke="#918cd6" stroke-width="0.75" fill="none"/>
<path d="M207.40,240.30 L213.60,246.50 M213.60,240.30 L207.40,246.50 M210.50,240.30 V246.50" stroke="#918cd6" stroke-width="0.75" fill="none"/>
<path d="M207.50,232.10 L329.60,171.20" stroke="#635cbf" stroke-width="1.95" stroke-dasharray="0.01 3.0" stroke-linecap="round" fill="none"/>
<path d="M210.40,224.80 L218.40,239.20" stroke="#8fd0ec" stroke-width="1.6" stroke-dasharray="1.6 1.6" stroke-linecap="butt" fill="none"/>
<path d="M214.40,207.30 L218.00,214.20 L210.80,214.20 Z" fill="#a7d8ec" stroke="#2f3436" stroke-width="0.9" stroke-linejoin="miter"/>
<path d="M210.00,227.20 L213.60,233.90 L206.40,233.90 Z" fill="#a7d8ec" stroke="#2f3436" stroke-width="0.9" stroke-linejoin="miter"/>
<path d="M214.40,238.50 L218.00,245.00 L210.80,245.00 Z" fill="#a7d8ec" stroke="#2f3436" stroke-width="0.9" stroke-linejoin="miter"/>
<path d="M218.90,242.10 L222.50,248.20 L215.30,248.20 Z" fill="#a7d8ec" stroke="#2f3436" stroke-width="0.9" stroke-linejoin="miter"/>
<text x="224.80" y="185.80" font-size="9.7" fill="#a09ad8" stroke="#a09ad8" stroke-width="0.1">R<tspan font-size="6.3" dy="-3.0" dx="-0.1">2</tspan><tspan dy="3.0" dx="0.1">= 0.53</tspan></text>
<text x="228.10" y="241.70" font-size="9.7" fill="#9fd5ec" stroke="#9fd5ec" stroke-width="0.1">R<tspan font-size="6.3" dy="-3.0" dx="-0.1">2</tspan><tspan dy="3.0" dx="0.1">= 0.14</tspan></text>
<path d="M376.0,137.5 H513.5 V245.5 H376.0 Z" fill="none" stroke="#4f4a49" stroke-width="1.2"/>
<path d="M376.5,245.5 V242.5" stroke="#4f4a49" stroke-width="1"/>
<text x="376.00" y="254.10" font-size="8.5" text-anchor="middle" fill="#3c3c3c" stroke="#3c3c3c" stroke-width="0.05" >0</text>
<path d="M410.5,245.5 V242.5" stroke="#4f4a49" stroke-width="1"/>
<text x="408.88" y="254.10" font-size="8.5" text-anchor="middle" fill="#3c3c3c" stroke="#3c3c3c" stroke-width="0.05" >2</text>
<path d="M444.5,245.5 V242.5" stroke="#4f4a49" stroke-width="1"/>
<text x="443.25" y="254.10" font-size="8.5" text-anchor="middle" fill="#3c3c3c" stroke="#3c3c3c" stroke-width="0.05" >4</text>
<path d="M479.5,245.5 V242.5" stroke="#4f4a49" stroke-width="1"/>
<text x="476.82" y="254.10" font-size="8.5" text-anchor="middle" fill="#3c3c3c" stroke="#3c3c3c" stroke-width="0.05" >6</text>
<path d="M513.5,245.5 V242.5" stroke="#4f4a49" stroke-width="1"/>
<text x="509.20" y="254.10" font-size="8.5" text-anchor="middle" fill="#3c3c3c" stroke="#3c3c3c" stroke-width="0.05" >8</text>
<path d="M376.0,245.5 H379.0" stroke="#4f4a49" stroke-width="1"/>
<text x="374.70" y="248.50" font-size="8.5" text-anchor="end" fill="#3c3c3c" stroke="#3c3c3c" stroke-width="0.05" >0</text>
<path d="M376.0,230.5 H379.0" stroke="#4f4a49" stroke-width="1"/>
<text x="374.70" y="233.55" font-size="8.5" text-anchor="end" fill="#3c3c3c" stroke="#3c3c3c" stroke-width="0.05" >100</text>
<path d="M376.0,215.5 H379.0" stroke="#4f4a49" stroke-width="1"/>
<text x="374.70" y="218.60" font-size="8.5" text-anchor="end" fill="#3c3c3c" stroke="#3c3c3c" stroke-width="0.05" >200</text>
<path d="M376.0,200.5 H379.0" stroke="#4f4a49" stroke-width="1"/>
<text x="374.70" y="203.65" font-size="8.5" text-anchor="end" fill="#3c3c3c" stroke="#3c3c3c" stroke-width="0.05" >300</text>
<path d="M376.0,185.5 H379.0" stroke="#4f4a49" stroke-width="1"/>
<text x="374.70" y="188.70" font-size="8.5" text-anchor="end" fill="#3c3c3c" stroke="#3c3c3c" stroke-width="0.05" >400</text>
<path d="M376.0,170.5 H379.0" stroke="#4f4a49" stroke-width="1"/>
<text x="374.70" y="173.75" font-size="8.5" text-anchor="end" fill="#3c3c3c" stroke="#3c3c3c" stroke-width="0.05" >500</text>
<path d="M376.0,155.5 H379.0" stroke="#4f4a49" stroke-width="1"/>
<text x="374.70" y="158.80" font-size="8.5" text-anchor="end" fill="#3c3c3c" stroke="#3c3c3c" stroke-width="0.05" >600</text>
<path d="M376.0,138.5 H379.0" stroke="#4f4a49" stroke-width="1"/>
<text x="374.70" y="141.10" font-size="8.5" text-anchor="end" fill="#3c3c3c" stroke="#3c3c3c" stroke-width="0.05" >700</text>
<path d="M513.5,148.5 H500.5 V137.5" fill="none" stroke="#5e5a5a" stroke-width="0.9"/>
<text x="507.20" y="145.80" font-size="12.3" text-anchor="middle" fill="#222" stroke="#222" stroke-width="0.08" >g</text>
<text x="385.10" y="148.50" font-size="9.3" fill="#2e2e2e" stroke="#2e2e2e" stroke-width="0.08">TS</text>
<path d="M399.00,142.40 L404.90,145.20 L399.00,148.00" fill="none" stroke="#2e2e2e" stroke-width="0.85" stroke-linejoin="miter"/>
<text x="407.14" y="148.50" font-size="9.3" fill="#2e2e2e" stroke="#2e2e2e" stroke-width="0.08">0.05wt%</text>
<text x="0" y="0" font-size="8.9" text-anchor="middle" fill="#3c3c3c" transform="translate(356.3,181.8) rotate(-90)">Hg(ppb)</text>
<text x="436.50" y="264.50" font-size="8.5" text-anchor="middle" fill="#3c3c3c" stroke="#3c3c3c" stroke-width="0.08" >TS(wt%)</text>
<path d="M429.60,160.10 L434.80,165.30 M434.80,160.10 L429.60,165.30 M432.20,160.10 V165.30" stroke="#918cd6" stroke-width="0.72" fill="none"/>
<path d="M413.30,169.20 L418.50,174.40 M418.50,169.20 L413.30,174.40 M415.90,169.20 V174.40" stroke="#918cd6" stroke-width="0.72" fill="none"/>
<path d="M411.10,173.50 L416.30,178.70 M416.30,173.50 L411.10,178.70 M413.70,173.50 V178.70" stroke="#918cd6" stroke-width="0.72" fill="none"/>
<path d="M407.40,175.70 L412.60,180.90 M412.60,175.70 L407.40,180.90 M410.00,175.70 V180.90" stroke="#918cd6" stroke-width="0.72" fill="none"/>
<path d="M407.40,180.10 L412.60,185.30 M412.60,180.10 L407.40,185.30 M410.00,180.10 V185.30" stroke="#918cd6" stroke-width="0.72" fill="none"/>
<path d="M414.70,180.80 L419.90,186.00 M419.90,180.80 L414.70,186.00 M417.30,180.80 V186.00" stroke="#918cd6" stroke-width="0.72" fill="none"/>
<path d="M416.20,183.80 L421.40,189.00 M421.40,183.80 L416.20,189.00 M418.80,183.80 V189.00" stroke="#918cd6" stroke-width="0.72" fill="none"/>
<path d="M419.80,186.70 L425.00,191.90 M425.00,186.70 L419.80,191.90 M422.40,186.70 V191.90" stroke="#918cd6" stroke-width="0.72" fill="none"/>
<path d="M408.90,186.70 L414.10,191.90 M414.10,186.70 L408.90,191.90 M411.50,186.70 V191.90" stroke="#918cd6" stroke-width="0.72" fill="none"/>
<path d="M408.20,189.60 L413.40,194.80 M413.40,189.60 L408.20,194.80 M410.80,189.60 V194.80" stroke="#918cd6" stroke-width="0.72" fill="none"/>
<path d="M403.80,190.30 L409.00,195.50 M409.00,190.30 L403.80,195.50 M406.40,190.30 V195.50" stroke="#918cd6" stroke-width="0.72" fill="none"/>
<path d="M403.80,194.00 L409.00,199.20 M409.00,194.00 L403.80,199.20 M406.40,194.00 V199.20" stroke="#918cd6" stroke-width="0.72" fill="none"/>
<path d="M411.10,194.00 L416.30,199.20 M416.30,194.00 L411.10,199.20 M413.70,194.00 V199.20" stroke="#918cd6" stroke-width="0.72" fill="none"/>
<path d="M395.00,200.50 L400.20,205.70 M400.20,200.50 L395.00,205.70 M397.60,200.50 V205.70" stroke="#918cd6" stroke-width="0.72" fill="none"/>
<path d="M403.10,202.00 L408.30,207.20 M408.30,202.00 L403.10,207.20 M405.70,202.00 V207.20" stroke="#918cd6" stroke-width="0.72" fill="none"/>
<path d="M407.40,199.10 L412.60,204.30 M412.60,199.10 L407.40,204.30 M410.00,199.10 V204.30" stroke="#918cd6" stroke-width="0.72" fill="none"/>
<path d="M414.00,198.40 L419.20,203.60 M419.20,198.40 L414.00,203.60 M416.60,198.40 V203.60" stroke="#918cd6" stroke-width="0.72" fill="none"/>
<path d="M425.70,202.70 L430.90,207.90 M430.90,202.70 L425.70,207.90 M428.30,202.70 V207.90" stroke="#918cd6" stroke-width="0.72" fill="none"/>
<path d="M385.50,204.90 L390.70,210.10 M390.70,204.90 L385.50,210.10 M388.10,204.90 V210.10" stroke="#918cd6" stroke-width="0.72" fill="none"/>
<path d="M442.40,209.30 L447.60,214.50 M447.60,209.30 L442.40,214.50 M445.00,209.30 V214.50" stroke="#918cd6" stroke-width="0.72" fill="none"/>
<path d="M408.90,206.40 L414.10,211.60 M414.10,206.40 L408.90,211.60 M411.50,206.40 V211.60" stroke="#918cd6" stroke-width="0.72" fill="none"/>
<path d="M382.80,210.50 L388.00,215.70 M388.00,210.50 L382.80,215.70 M385.40,210.50 V215.70" stroke="#918cd6" stroke-width="0.72" fill="none"/>
<path d="M381.40,216.80 L386.60,222.00 M386.60,216.80 L381.40,222.00 M384.00,216.80 V222.00" stroke="#918cd6" stroke-width="0.72" fill="none"/>
<path d="M389.20,211.20 L394.40,216.40 M394.40,211.20 L389.20,216.40 M391.80,211.20 V216.40" stroke="#918cd6" stroke-width="0.72" fill="none"/>
<path d="M389.90,216.10 L395.10,221.30 M395.10,216.10 L389.90,221.30 M392.50,216.10 V221.30" stroke="#918cd6" stroke-width="0.72" fill="none"/>
<path d="M386.40,220.40 L391.60,225.60 M391.60,220.40 L386.40,225.60 M389.00,220.40 V225.60" stroke="#918cd6" stroke-width="0.72" fill="none"/>
<path d="M395.60,209.10 L400.80,214.30 M400.80,209.10 L395.60,214.30 M398.20,209.10 V214.30" stroke="#918cd6" stroke-width="0.72" fill="none"/>
<path d="M399.10,214.00 L404.30,219.20 M404.30,214.00 L399.10,219.20 M401.70,214.00 V219.20" stroke="#918cd6" stroke-width="0.72" fill="none"/>
<path d="M397.70,219.70 L402.90,224.90 M402.90,219.70 L397.70,224.90 M400.30,219.70 V224.90" stroke="#918cd6" stroke-width="0.72" fill="none"/>
<path d="M406.20,216.80 L411.40,222.00 M411.40,216.80 L406.20,222.00 M408.80,216.80 V222.00" stroke="#918cd6" stroke-width="0.72" fill="none"/>
<path d="M403.40,221.10 L408.60,226.30 M408.60,221.10 L403.40,226.30 M406.00,221.10 V226.30" stroke="#918cd6" stroke-width="0.72" fill="none"/>
<path d="M408.30,226.00 L413.50,231.20 M413.50,226.00 L408.30,231.20 M410.90,226.00 V231.20" stroke="#918cd6" stroke-width="0.72" fill="none"/>
<path d="M406.90,231.00 L412.10,236.20 M412.10,231.00 L406.90,236.20 M409.50,231.00 V236.20" stroke="#918cd6" stroke-width="0.72" fill="none"/>
<path d="M399.80,232.40 L405.00,237.60 M405.00,232.40 L399.80,237.60 M402.40,232.40 V237.60" stroke="#918cd6" stroke-width="0.72" fill="none"/>
<path d="M392.70,227.50 L397.90,232.70 M397.90,227.50 L392.70,232.70 M395.30,227.50 V232.70" stroke="#918cd6" stroke-width="0.72" fill="none"/>
<path d="M386.40,226.70 L391.60,231.90 M391.60,226.70 L386.40,231.90 M389.00,226.70 V231.90" stroke="#918cd6" stroke-width="0.72" fill="none"/>
<path d="M396.30,238.70 L401.50,243.90 M401.50,238.70 L396.30,243.90 M398.90,238.70 V243.90" stroke="#918cd6" stroke-width="0.72" fill="none"/>
<path d="M386.40,240.20 L391.60,245.40 M391.60,240.20 L386.40,245.40 M389.00,240.20 V245.40" stroke="#918cd6" stroke-width="0.72" fill="none"/>
<path d="M377.90,231.70 L383.10,236.90 M383.10,231.70 L377.90,236.90 M380.50,231.70 V236.90" stroke="#918cd6" stroke-width="0.72" fill="none"/>
<path d="M375.80,238.10 L381.00,243.30 M381.00,238.10 L375.80,243.30 M378.40,238.10 V243.30" stroke="#918cd6" stroke-width="0.72" fill="none"/>
<path d="M380.00,236.70 L385.20,241.90 M385.20,236.70 L380.00,241.90 M382.60,236.70 V241.90" stroke="#918cd6" stroke-width="0.72" fill="none"/>
<path d="M373.60,240.90 L378.80,246.10 M378.80,240.90 L373.60,246.10 M376.20,240.90 V246.10" stroke="#918cd6" stroke-width="0.72" fill="none"/>
<path d="M409.00,204.80 L414.20,210.00 M414.20,204.80 L409.00,210.00 M411.60,204.80 V210.00" stroke="#918cd6" stroke-width="0.72" fill="none"/>
<path d="M410.40,208.40 L415.60,213.60 M415.60,208.40 L410.40,213.60 M413.00,208.40 V213.60" stroke="#918cd6" stroke-width="0.72" fill="none"/>
<path d="M383.50,203.40 L388.70,208.60 M388.70,203.40 L383.50,208.60 M386.10,203.40 V208.60" stroke="#918cd6" stroke-width="0.72" fill="none"/>
<path d="M434.20,222.60 L439.40,227.80 M439.40,222.60 L434.20,227.80 M436.80,222.60 V227.80" stroke="#918cd6" stroke-width="0.72" fill="none"/>
<path d="M416.60,181.30 L421.80,186.50 M421.80,181.30 L416.60,186.50 M419.20,181.30 V186.50" stroke="#918cd6" stroke-width="0.72" fill="none"/>
<path d="M384.70,217.70 L389.90,222.90 M389.90,217.70 L384.70,222.90 M387.30,217.70 V222.90" stroke="#918cd6" stroke-width="0.72" fill="none"/>
<path d="M389.20,219.70 L394.40,224.90 M394.40,219.70 L389.20,224.90 M391.80,219.70 V224.90" stroke="#918cd6" stroke-width="0.72" fill="none"/>
<path d="M397.10,217.70 L402.30,222.90 M402.30,217.70 L397.10,222.90 M399.70,217.70 V222.90" stroke="#918cd6" stroke-width="0.72" fill="none"/>
<path d="M404.00,217.20 L409.20,222.40 M409.20,217.20 L404.00,222.40 M406.60,217.20 V222.40" stroke="#918cd6" stroke-width="0.72" fill="none"/>
<path d="M399.00,221.60 L404.20,226.80 M404.20,221.60 L399.00,226.80 M401.60,221.60 V226.80" stroke="#918cd6" stroke-width="0.72" fill="none"/>
<path d="M406.90,226.60 L412.10,231.80 M412.10,226.60 L406.90,231.80 M409.50,226.60 V231.80" stroke="#918cd6" stroke-width="0.72" fill="none"/>
<path d="M388.20,228.50 L393.40,233.70 M393.40,228.50 L388.20,233.70 M390.80,228.50 V233.70" stroke="#918cd6" stroke-width="0.72" fill="none"/>
<path d="M380.80,230.50 L386.00,235.70 M386.00,230.50 L380.80,235.70 M383.40,230.50 V235.70" stroke="#918cd6" stroke-width="0.72" fill="none"/>
<path d="M376.30,231.50 L381.50,236.70 M381.50,231.50 L376.30,236.70 M378.90,231.50 V236.70" stroke="#918cd6" stroke-width="0.72" fill="none"/>
<path d="M387.20,235.40 L392.40,240.60 M392.40,235.40 L387.20,240.60 M389.80,235.40 V240.60" stroke="#918cd6" stroke-width="0.72" fill="none"/>
<path d="M377.30,240.40 L382.50,245.60 M382.50,240.40 L377.30,245.60 M379.90,240.40 V245.60" stroke="#918cd6" stroke-width="0.72" fill="none"/>
<path d="M373.40,238.40 L378.60,243.60 M378.60,238.40 L373.40,243.60 M376.00,238.40 V243.60" stroke="#918cd6" stroke-width="0.72" fill="none"/>
<path d="M407.90,220.60 L413.10,225.80 M413.10,220.60 L407.90,225.80 M410.50,220.60 V225.80" stroke="#918cd6" stroke-width="0.72" fill="none"/>
<path d="M381.30,225.60 L386.50,230.80 M386.50,225.60 L381.30,230.80 M383.90,225.60 V230.80" stroke="#918cd6" stroke-width="0.72" fill="none"/>
<path d="M392.10,223.60 L397.30,228.80 M397.30,223.60 L392.10,228.80 M394.70,223.60 V228.80" stroke="#918cd6" stroke-width="0.72" fill="none"/>
<path d="M381.30,211.00 L386.50,216.20 M386.50,211.00 L381.30,216.20 M383.90,211.00 V216.20" stroke="#918cd6" stroke-width="0.72" fill="none"/>
<path d="M401.00,209.50 L406.20,214.70 M406.20,209.50 L401.00,214.70 M403.60,209.50 V214.70" stroke="#918cd6" stroke-width="0.72" fill="none"/>
<path d="M406.00,207.60 L411.20,212.80 M411.20,207.60 L406.00,212.80 M408.60,207.60 V212.80" stroke="#918cd6" stroke-width="0.72" fill="none"/>
<path d="M396.10,215.00 L401.30,220.20 M401.30,215.00 L396.10,220.20 M398.70,215.00 V220.20" stroke="#918cd6" stroke-width="0.72" fill="none"/>
<path d="M403.00,215.50 L408.20,220.70 M408.20,215.50 L403.00,220.70 M405.60,215.50 V220.70" stroke="#918cd6" stroke-width="0.72" fill="none"/>
<path d="M385.20,222.40 L390.40,227.60 M390.40,222.40 L385.20,227.60 M387.80,222.40 V227.60" stroke="#918cd6" stroke-width="0.72" fill="none"/>
<path d="M375.40,240.70 L380.60,245.90 M380.60,240.70 L375.40,245.90 M378.00,240.70 V245.90" stroke="#918cd6" stroke-width="0.72" fill="none"/>
<path d="M378.40,238.70 L383.60,243.90 M383.60,238.70 L378.40,243.90 M381.00,238.70 V243.90" stroke="#918cd6" stroke-width="0.72" fill="none"/>
<path d="M381.40,240.70 L386.60,245.90 M386.60,240.70 L381.40,245.90 M384.00,240.70 V245.90" stroke="#918cd6" stroke-width="0.72" fill="none"/>
<path d="M376.40,235.70 L381.60,240.90 M381.60,235.70 L376.40,240.90 M379.00,235.70 V240.90" stroke="#918cd6" stroke-width="0.72" fill="none"/>
<path d="M380.40,234.70 L385.60,239.90 M385.60,234.70 L380.40,239.90 M383.00,234.70 V239.90" stroke="#918cd6" stroke-width="0.72" fill="none"/>
<path d="M383.40,237.70 L388.60,242.90 M388.60,237.70 L383.40,242.90 M386.00,237.70 V242.90" stroke="#918cd6" stroke-width="0.72" fill="none"/>
<path d="M387.40,238.70 L392.60,243.90 M392.60,238.70 L387.40,243.90 M390.00,238.70 V243.90" stroke="#918cd6" stroke-width="0.72" fill="none"/>
<path d="M382.40,230.70 L387.60,235.90 M387.60,230.70 L382.40,235.90 M385.00,230.70 V235.90" stroke="#918cd6" stroke-width="0.72" fill="none"/>
<path d="M386.40,232.70 L391.60,237.90 M391.60,232.70 L386.40,237.90 M389.00,232.70 V237.90" stroke="#918cd6" stroke-width="0.72" fill="none"/>
<path d="M390.40,233.70 L395.60,238.90 M395.60,233.70 L390.40,238.90 M393.00,233.70 V238.90" stroke="#918cd6" stroke-width="0.72" fill="none"/>
<path d="M393.40,230.70 L398.60,235.90 M398.60,230.70 L393.40,235.90 M396.00,230.70 V235.90" stroke="#918cd6" stroke-width="0.72" fill="none"/>
<path d="M383.40,223.70 L388.60,228.90 M388.60,223.70 L383.40,228.90 M386.00,223.70 V228.90" stroke="#918cd6" stroke-width="0.72" fill="none"/>
<path d="M387.40,221.70 L392.60,226.90 M392.60,221.70 L387.40,226.90 M390.00,221.70 V226.90" stroke="#918cd6" stroke-width="0.72" fill="none"/>
<path d="M390.40,225.70 L395.60,230.90 M395.60,225.70 L390.40,230.90 M393.00,225.70 V230.90" stroke="#918cd6" stroke-width="0.72" fill="none"/>
<path d="M394.40,222.70 L399.60,227.90 M399.60,222.70 L394.40,227.90 M397.00,222.70 V227.90" stroke="#918cd6" stroke-width="0.72" fill="none"/>
<path d="M396.40,227.70 L401.60,232.90 M401.60,227.70 L396.40,232.90 M399.00,227.70 V232.90" stroke="#918cd6" stroke-width="0.72" fill="none"/>
<path d="M377.40,227.70 L382.60,232.90 M382.60,227.70 L377.40,232.90 M380.00,227.70 V232.90" stroke="#918cd6" stroke-width="0.72" fill="none"/>
<path d="M376,238.8 L444.8,173.6" stroke="#6f68c6" stroke-width="1.1" fill="none"/>
<text x="448.30" y="175.70" font-size="9.7" fill="#a09ad8" stroke="#a09ad8" stroke-width="0.1">R<tspan font-size="6.3" dy="-3.0" dx="-0.1">2</tspan><tspan dy="3.0" dx="0.1">= 0.47</tspan></text>
<path d="M545.5,137.5 H677.5 V245.5 H545.5 Z" fill="none" stroke="#4f4a49" stroke-width="1.2"/>
<path d="M545.5,245.5 V242.5" stroke="#4f4a49" stroke-width="1"/>
<text x="545.50" y="254.20" font-size="8.5" text-anchor="middle" fill="#3c3c3c" stroke="#3c3c3c" stroke-width="0.05" >0</text>
<path d="M589.5,245.5 V242.5" stroke="#4f4a49" stroke-width="1"/>
<text x="588.50" y="254.20" font-size="8.5" text-anchor="middle" fill="#3c3c3c" stroke="#3c3c3c" stroke-width="0.05" >10</text>
<path d="M633.5,245.5 V242.5" stroke="#4f4a49" stroke-width="1"/>
<text x="632.50" y="254.20" font-size="8.5" text-anchor="middle" fill="#3c3c3c" stroke="#3c3c3c" stroke-width="0.05" >20</text>
<path d="M677.5,245.5 V242.5" stroke="#4f4a49" stroke-width="1"/>
<text x="676.00" y="254.20" font-size="8.5" text-anchor="middle" fill="#3c3c3c" stroke="#3c3c3c" stroke-width="0.05" >30</text>
<path d="M545.5,245.5 H548.5" stroke="#4f4a49" stroke-width="1"/>
<text x="544.20" y="248.50" font-size="8.5" text-anchor="end" fill="#3c3c3c" stroke="#3c3c3c" stroke-width="0.05" >0</text>
<path d="M545.5,223.5 H548.5" stroke="#4f4a49" stroke-width="1"/>
<text x="544.20" y="226.90" font-size="8.5" text-anchor="end" fill="#3c3c3c" stroke="#3c3c3c" stroke-width="0.05" >50</text>
<path d="M545.5,202.5 H548.5" stroke="#4f4a49" stroke-width="1"/>
<text x="544.20" y="205.30" font-size="8.5" text-anchor="end" fill="#3c3c3c" stroke="#3c3c3c" stroke-width="0.05" >100</text>
<path d="M545.5,180.5 H548.5" stroke="#4f4a49" stroke-width="1"/>
<text x="544.20" y="183.70" font-size="8.5" text-anchor="end" fill="#3c3c3c" stroke="#3c3c3c" stroke-width="0.05" >150</text>
<path d="M545.5,159.5 H548.5" stroke="#4f4a49" stroke-width="1"/>
<text x="544.20" y="162.10" font-size="8.5" text-anchor="end" fill="#3c3c3c" stroke="#3c3c3c" stroke-width="0.05" >200</text>
<path d="M545.5,137.5 H548.5" stroke="#4f4a49" stroke-width="1"/>
<text x="544.20" y="140.50" font-size="8.5" text-anchor="end" fill="#3c3c3c" stroke="#3c3c3c" stroke-width="0.05" >250</text>
<path d="M677.5,148.5 H665.5 V137.5" fill="none" stroke="#5e5a5a" stroke-width="0.9"/>
<text x="671.70" y="146.90" font-size="12.3" text-anchor="middle" fill="#222" stroke="#222" stroke-width="0.08" >h</text>
<text x="0" y="0" font-size="8.9" text-anchor="middle" fill="#3c3c3c" transform="translate(528,183.5) rotate(-90)">Hg(ppb)</text>
<text x="608.80" y="265.00" font-size="8.5" text-anchor="middle" fill="#3c3c3c" stroke="#3c3c3c" stroke-width="0.08" >Mo(ppm)</text>
<path d="M550.00,230.00 L655.90,160.10" stroke="#8fd0ec" stroke-width="2.6" stroke-dasharray="0.01 5.05" stroke-linecap="round" fill="none"/>
<path d="M547.00,231.00 L559.00,245.50" stroke="#f2b1b6" stroke-width="1.8" stroke-dasharray="0.01 4.5" stroke-linecap="round" fill="none"/>
<circle cx="546.20" cy="228.20" r="3.1" fill="#eca8ae" stroke="#5b4345" stroke-width="0.8"/>
<circle cx="546.20" cy="233.40" r="3.1" fill="#eca8ae" stroke="#5b4345" stroke-width="0.8"/>
<circle cx="556.70" cy="239.30" r="3.1" fill="#eca8ae" stroke="#5b4345" stroke-width="0.8"/>
<circle cx="554.10" cy="241.30" r="3.1" fill="#eca8ae" stroke="#5b4345" stroke-width="0.8"/>
<circle cx="551.40" cy="243.30" r="3.1" fill="#eca8ae" stroke="#5b4345" stroke-width="0.8"/>
<path d="M554.50,206.50 L558.20,214.00 L550.80,214.00 Z" fill="#a7d8ec" stroke="#2f3436" stroke-width="0.9" stroke-linejoin="miter"/>
<path d="M545.50,233.40 L549.20,240.70 L541.80,240.70 Z" fill="#a7d8ec" stroke="#2f3436" stroke-width="0.9" stroke-linejoin="miter"/>
<path d="M545.50,241.30 L549.20,247.90 L541.80,247.90 Z" fill="#a7d8ec" stroke="#2f3436" stroke-width="0.9" stroke-linejoin="miter"/>
<path d="M654.80,159.30 L658.50,166.60 L651.10,166.60 Z" fill="#a7d8ec" stroke="#2f3436" stroke-width="0.9" stroke-linejoin="miter"/>
<text x="562.80" y="189.00" font-size="9.7" fill="#9fd5ec" stroke="#9fd5ec" stroke-width="0.1">R<tspan font-size="6.3" dy="-3.0" dx="-0.1">2</tspan><tspan dy="3.0" dx="0.1">= 0.89</tspan></text>
<text x="572.80" y="233.80" font-size="9.7" fill="#f2b1b6" stroke="#f2b1b6" stroke-width="0.1">R<tspan font-size="6.3" dy="-3.0" dx="-0.1">2</tspan><tspan dy="3.0" dx="0.1">= 0.57</tspan></text>
<text x="83.9" y="293.2" font-size="9.1" fill="#2e2e2e" stroke="#2e2e2e" stroke-width="0.12" letter-spacing="0.17">Hg-rich intervals</text>
<circle cx="154.8" cy="289.3" r="0.72" fill="#2e2e2e"/><circle cx="154.8" cy="292.5" r="0.72" fill="#2e2e2e"/>
<circle cx="173.10" cy="288.70" r="3.1" fill="#eca8ae" stroke="#5b4345" stroke-width="0.8"/>
<text x="183.5" y="292.6" font-size="9.1" fill="#2e2e2e" stroke="#2e2e2e" stroke-width="0.12" letter-spacing="0.035">Dahongyu Formation</text>
<text x="186" y="302" font-size="9.1" fill="#2e2e2e" stroke="#2e2e2e" stroke-width="0.12" letter-spacing="0.035">(<tspan font-style="italic" dx="0.6">This study</tspan><tspan dx="-0.2">)</tspan></text>
<path d="M325.50,284.40 L329.50,292.40 L321.50,292.40 Z" fill="#a7d8ec" stroke="#2f3436" stroke-width="0.9" stroke-linejoin="miter"/>
<text x="335.8" y="292.7" font-size="9.1" fill="#2e2e2e" stroke="#2e2e2e" stroke-width="0.12" letter-spacing="0.035">Hongshuizhuang</text>
<text x="335.8" y="302" font-size="9.1" fill="#2e2e2e" stroke="#2e2e2e" stroke-width="0.12" letter-spacing="0.035">Formation (<tspan font-style="italic" dx="0.8">This study</tspan><tspan dx="0.4">)</tspan></text>
<path d="M459.60,285.30 L465.60,291.30 M465.60,285.30 L459.60,291.30 M462.60,285.30 V291.30" stroke="#918cd6" stroke-width="0.8" fill="none"/>
<text x="471.9" y="292.7" font-size="9.1" fill="#2e2e2e" stroke="#2e2e2e" stroke-width="0.12" letter-spacing="0.035">Hongshuizhuang</text>
<text x="471.9" y="302" font-size="9.1" fill="#2e2e2e" stroke="#2e2e2e" stroke-width="0.12" letter-spacing="0.035">Formation (<tspan font-style="italic" dx="0.8">Wu et al., 2023</tspan><tspan dx="0.4">)</tspan></text>
</svg></body></html>
